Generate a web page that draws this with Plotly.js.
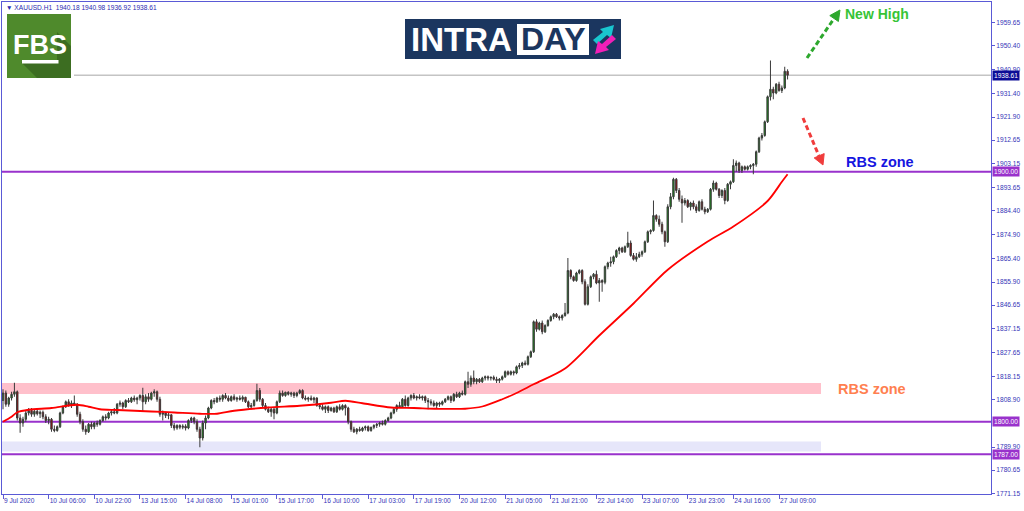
<!DOCTYPE html>
<html><head><meta charset="utf-8">
<script src="https://cdn.plot.ly/plotly-3.0.1.min.js"></script>
<style>html,body{margin:0;padding:0;background:#fff;}#chart{width:1024px;height:511px;}</style>
</head><body><div id="chart"></div>
<script>
// ---- data (XAUUSD H1) ----
const openP = [
1808.5,1811.5,1807.0,1809.5,1811.0,1812.0,1801.5,1799.5,1801.0,1803.5,
1804.5,1803.0,1804.2,1803.2,1803.8,1802.0,1800.5,1801.0,1797.0,1796.5,
1798.0,1803.5,1806.0,1808.0,1806.5,1807.5,1807.0,1803.0,1800.0,1797.0,
1796.0,1799.0,1798.0,1799.5,1799.0,1800.5,1802.0,1801.5,1803.5,1804.0,
1803.5,1807.0,1807.5,1806.0,1808.5,1808.0,1809.5,1808.8,1809.5,1810.5,
1808.0,1810.0,1809.0,1811.5,1812.0,1809.0,1803.0,1803.5,1802.5,1802.8,
1798.5,1797.5,1798.5,1797.8,1798.2,1797.5,1800.5,1801.5,1800.0,1797.0,
1793.5,1799.5,1801.5,1805.5,1808.5,1808.0,1809.5,1809.0,1810.5,1809.5,
1808.5,1810.0,1809.0,1809.5,1809.0,1809.8,1808.0,1806.0,1806.5,1808.5,
1812.5,1809.0,1806.5,1805.0,1804.0,1805.0,1803.5,1808.0,1811.5,1810.5,
1811.8,1811.0,1811.5,1810.5,1811.5,1812.5,1809.5,1809.0,1809.5,1808.8,
1809.5,1806.5,1806.0,1805.0,1806.0,1804.5,1805.5,1804.0,1806.0,1805.0,
1806.5,1805.5,1800.0,1797.0,1796.0,1797.0,1796.5,1797.5,1798.0,1796.5,
1797.8,1798.5,1799.0,1799.5,1799.0,1800.5,1801.5,1803.5,1805.0,1806.5,
1806.0,1809.0,1806.5,1809.5,1810.5,1809.5,1810.0,1809.5,1810.0,1808.5,
1808.0,1807.5,1806.5,1807.5,1807.0,1808.0,1809.0,1810.0,1808.5,1811.0,
1810.0,1811.5,1811.0,1816.0,1815.0,1817.5,1816.0,1817.0,1816.0,1817.5,
1818.0,1817.5,1817.8,1817.0,1816.5,1817.0,1818.0,1820.0,1819.0,1820.0,
1819.5,1822.0,1822.5,1823.5,1823.0,1826.0,1828.0,1840.0,1837.0,1839.5,
1836.0,1838.5,1840.5,1842.0,1843.0,1842.0,1841.5,1842.5,1843.5,1860.5,
1858.0,1856.5,1859.5,1860.5,1856.0,1847.0,1854.0,1858.0,1859.0,1855.5,
1856.5,1855.8,1862.0,1863.5,1864.0,1866.0,1868.5,1869.5,1868.0,1870.0,
1871.5,1866.5,1865.0,1866.0,1867.0,1868.0,1872.0,1876.0,1876.5,1882.5,
1881.0,1879.0,1876.0,1872.0,1886.0,1890.0,1897.0,1892.5,1889.0,1887.5,
1888.5,1886.0,1887.5,1886.0,1884.5,1888.0,1885.0,1884.0,1885.0,1893.0,
1895.5,1893.0,1890.5,1892.5,1888.5,1895.0,1896.0,1902.5,1903.5,1900.5,
1902.0,1901.0,1902.0,1902.5,1903.0,1908.0,1913.5,1914.5,1920.0,1930.0,
1933.0,1931.5,1935.0,1932.5,1933.5,1940.18];
const highP = [
1813.0,1812.5,1810.0,1812.0,1815.6,1812.5,1803.0,1802.0,1804.5,1805.5,
1805.5,1805.0,1805.0,1804.5,1804.5,1803.0,1802.0,1801.5,1798.5,1798.5,
1804.0,1806.5,1808.5,1809.0,1808.5,1810.5,1807.5,1804.0,1801.0,1798.5,
1799.5,1800.0,1800.0,1800.5,1801.0,1802.5,1803.0,1804.0,1805.0,1805.5,
1807.5,1808.5,1808.0,1809.0,1809.5,1810.0,1810.5,1810.0,1811.0,1813.6,
1811.0,1811.5,1812.0,1813.0,1812.5,1810.0,1804.5,1804.0,1803.5,1803.0,
1799.5,1799.0,1799.0,1799.0,1799.0,1801.0,1802.0,1802.0,1801.0,1798.0,
1800.5,1802.5,1806.0,1809.0,1809.5,1810.0,1810.5,1811.0,1811.5,1810.5,
1810.5,1811.0,1810.0,1810.5,1810.5,1810.0,1808.5,1807.5,1809.0,1815.2,
1813.5,1809.5,1807.5,1806.0,1805.5,1805.5,1808.5,1812.5,1812.5,1812.0,
1812.2,1812.0,1812.0,1812.0,1813.0,1813.0,1810.5,1810.0,1810.5,1810.0,
1809.8,1807.5,1807.0,1806.5,1806.5,1806.0,1806.0,1806.5,1807.0,1807.0,
1807.0,1806.0,1800.5,1798.0,1797.5,1798.0,1798.0,1798.5,1798.5,1798.0,
1799.0,1799.5,1800.0,1800.5,1801.0,1802.0,1804.0,1805.5,1807.0,1808.0,
1809.5,1810.5,1810.0,1811.0,1811.5,1810.5,1811.0,1810.5,1810.5,1809.5,
1809.0,1808.5,1808.0,1808.0,1808.5,1809.5,1810.5,1810.5,1811.5,1812.0,
1812.0,1812.5,1816.5,1820.0,1818.5,1820.5,1817.5,1817.5,1818.0,1818.5,
1818.5,1818.0,1818.5,1818.0,1817.5,1818.5,1820.5,1820.5,1820.5,1820.5,
1822.5,1823.5,1824.0,1824.5,1826.5,1828.5,1840.5,1841.0,1840.0,1840.5,
1839.0,1841.0,1842.5,1843.5,1843.5,1842.5,1843.0,1847.5,1865.5,1861.0,
1858.5,1860.0,1861.0,1861.0,1857.0,1855.0,1858.5,1859.5,1860.5,1857.5,
1857.0,1862.5,1864.0,1866.0,1866.5,1869.0,1870.0,1870.0,1870.5,1876.0,
1872.5,1867.5,1867.5,1868.0,1868.5,1872.5,1876.5,1877.0,1888.5,1883.0,
1882.5,1880.0,1876.5,1887.0,1891.5,1897.6,1897.5,1893.5,1890.5,1889.5,
1889.0,1888.0,1888.5,1887.0,1888.5,1889.0,1886.0,1885.5,1893.5,1896.5,
1896.0,1893.5,1893.0,1893.5,1895.5,1896.5,1905.0,1904.5,1904.0,1902.5,
1902.5,1902.5,1903.0,1903.5,1908.5,1914.0,1915.5,1920.5,1930.5,1944.5,
1934.0,1935.5,1936.0,1934.5,1942.0,1940.98];
const lowP = [
1805.0,1806.0,1806.0,1808.5,1810.0,1800.5,1795.6,1798.0,1800.0,1802.5,
1802.0,1802.0,1802.5,1801.5,1801.0,1799.5,1799.0,1796.0,1795.8,1796.0,
1797.5,1803.0,1805.5,1806.0,1805.5,1806.5,1802.0,1799.0,1796.0,1794.8,
1795.5,1797.0,1797.0,1798.0,1798.5,1800.0,1800.5,1801.0,1802.5,1803.0,
1803.0,1806.0,1805.0,1805.5,1807.5,1807.5,1808.0,1807.0,1808.5,1804.0,
1807.0,1808.0,1808.5,1810.0,1808.0,1802.0,1800.5,1801.5,1801.0,1797.5,
1796.5,1796.8,1797.0,1797.0,1796.5,1797.0,1799.5,1799.0,1796.0,1789.8,
1792.5,1797.0,1801.0,1805.0,1807.0,1807.5,1808.0,1808.0,1809.0,1808.0,
1808.0,1808.5,1808.0,1808.5,1808.0,1807.5,1805.5,1805.0,1806.0,1808.0,
1808.0,1805.5,1804.5,1803.5,1802.0,1801.0,1803.0,1807.5,1810.0,1810.0,
1810.5,1810.0,1809.5,1809.8,1811.0,1809.0,1808.5,1808.0,1808.5,1807.5,
1806.0,1805.0,1804.5,1803.5,1803.5,1804.0,1803.5,1803.5,1804.5,1804.5,
1802.5,1799.0,1796.0,1795.5,1795.0,1796.0,1796.0,1796.5,1796.0,1796.0,
1797.0,1797.5,1798.0,1798.5,1798.5,1800.0,1801.0,1803.0,1804.0,1805.5,
1805.5,1806.0,1806.0,1808.5,1809.0,1808.5,1809.0,1808.5,1807.5,1805.0,
1806.5,1806.0,1805.5,1806.0,1806.5,1807.5,1808.5,1807.5,1808.0,1809.5,
1809.5,1810.5,1810.5,1813.5,1814.0,1815.0,1815.0,1815.5,1815.5,1816.5,
1816.5,1816.5,1816.5,1815.5,1815.5,1816.5,1817.5,1818.5,1818.5,1818.5,
1819.0,1821.0,1821.5,1822.5,1822.5,1825.5,1827.5,1836.0,1836.5,1835.0,
1835.5,1838.0,1840.0,1841.0,1841.5,1840.5,1840.5,1842.0,1843.0,1857.0,
1856.0,1856.0,1859.0,1855.0,1846.5,1846.5,1853.5,1857.0,1855.0,1848.0,
1852.0,1855.0,1861.0,1862.0,1863.0,1865.5,1867.0,1867.5,1867.5,1869.5,
1866.0,1864.5,1864.0,1865.5,1866.0,1867.5,1871.5,1875.0,1876.0,1880.0,
1878.0,1875.0,1870.0,1871.5,1885.0,1889.0,1891.5,1888.0,1879.6,1886.5,
1885.5,1884.5,1885.0,1883.5,1884.0,1884.5,1883.0,1883.5,1884.5,1892.0,
1892.5,1889.5,1889.5,1887.0,1888.0,1893.0,1895.5,1900.0,1899.5,1899.5,
1900.5,1900.5,1901.0,1899.0,1902.0,1907.5,1912.5,1914.0,1919.5,1928.5,
1929.0,1931.0,1932.0,1931.5,1933.0,1936.92];
const closeP = [
1811.5,1807.0,1809.5,1811.0,1812.0,1801.5,1799.5,1801.0,1803.5,1804.5,
1803.0,1804.2,1803.2,1803.8,1802.0,1800.5,1801.0,1797.0,1796.5,1798.0,
1803.5,1806.0,1808.0,1806.5,1807.5,1807.0,1803.0,1800.0,1797.0,1796.0,
1799.0,1798.0,1799.5,1799.0,1800.5,1802.0,1801.5,1803.5,1804.0,1803.5,
1807.0,1807.5,1806.0,1808.5,1808.0,1809.5,1808.8,1809.5,1810.5,1808.0,
1810.0,1809.0,1811.5,1812.0,1809.0,1803.0,1803.5,1802.5,1802.8,1798.5,
1797.5,1798.5,1797.8,1798.2,1797.5,1800.5,1801.5,1800.0,1797.0,1793.5,
1799.5,1801.5,1805.5,1808.5,1808.0,1809.5,1809.0,1810.5,1809.5,1808.5,
1810.0,1809.0,1809.5,1809.0,1809.8,1808.0,1806.0,1806.5,1808.5,1812.5,
1809.0,1806.5,1805.0,1804.0,1805.0,1803.5,1808.0,1811.5,1810.5,1811.8,
1811.0,1811.5,1810.5,1811.5,1812.5,1809.5,1809.0,1809.5,1808.8,1809.5,
1806.5,1806.0,1805.0,1806.0,1804.5,1805.5,1804.0,1806.0,1805.0,1806.5,
1805.5,1800.0,1797.0,1796.0,1797.0,1796.5,1797.5,1798.0,1796.5,1797.8,
1798.5,1799.0,1799.5,1799.0,1800.5,1801.5,1803.5,1805.0,1806.5,1806.0,
1809.0,1806.5,1809.5,1810.5,1809.5,1810.0,1809.5,1810.0,1808.5,1808.0,
1807.5,1806.5,1807.5,1807.0,1808.0,1809.0,1810.0,1808.5,1811.0,1810.0,
1811.5,1811.0,1816.0,1815.0,1817.5,1816.0,1817.0,1816.0,1817.5,1818.0,
1817.5,1817.8,1817.0,1816.5,1817.0,1818.0,1820.0,1819.0,1820.0,1819.5,
1822.0,1822.5,1823.5,1823.0,1826.0,1828.0,1840.0,1837.0,1839.5,1836.0,
1838.5,1840.5,1842.0,1843.0,1842.0,1841.5,1842.5,1843.5,1860.5,1858.0,
1856.5,1859.5,1860.5,1856.0,1847.0,1854.0,1858.0,1859.0,1855.5,1856.5,
1855.8,1862.0,1863.5,1864.0,1866.0,1868.5,1869.5,1868.0,1870.0,1871.5,
1866.5,1865.0,1866.0,1867.0,1868.0,1872.0,1876.0,1876.5,1882.5,1881.0,
1879.0,1876.0,1872.0,1886.0,1890.0,1897.0,1892.5,1889.0,1887.5,1888.5,
1886.0,1887.5,1886.0,1884.5,1888.0,1885.0,1884.0,1885.0,1893.0,1895.5,
1893.0,1890.5,1892.5,1888.5,1895.0,1896.0,1902.5,1903.5,1900.5,1902.0,
1901.0,1902.0,1902.5,1903.0,1908.0,1913.5,1914.5,1920.0,1930.0,1933.0,
1931.5,1935.0,1932.5,1933.5,1940.2,1938.61];

// moving average (read at these bar positions)
const maIdx = [0,3,5,9,17,26,30,34,40,52,60,69,75,81,93,104,115,120,126,136,144,152,162,168,175,180,186,197,209,221,233,247,256,268,273,275];
const maVal = [1800.0,1802.0,1803.8,1804.8,1805.5,1806.8,1806.0,1805.0,1804.7,1804.1,1803.7,1803.2,1803.2,1804.4,1805.7,1806.4,1807.6,1808.4,1807.4,1805.7,1805.5,1805.2,1805.2,1806.1,1809.0,1811.5,1815.0,1821.3,1834.5,1847.3,1860.8,1872.1,1878.1,1888.3,1896.0,1899.0];

// axis ticks
const xTickPos = [0,16,32,48,64,80,96,112,128,144,160,176,192,208,224,240,256,272];
const xTickText = ['9 Jul 2020','10 Jul 06:00','10 Jul 22:00','13 Jul 15:00','14 Jul 08:00','15 Jul 01:00','15 Jul 17:00','16 Jul 10:00','17 Jul 03:00','17 Jul 19:00','20 Jul 12:00','21 Jul 05:00','21 Jul 21:00','22 Jul 14:00','23 Jul 07:00','23 Jul 23:00','24 Jul 16:00','27 Jul 09:00'];
const yTickVals = [1959.65,1950.40,1940.90,1931.40,1921.90,1912.65,1903.15,1893.65,1884.40,1874.90,1865.40,1855.90,1846.65,1837.15,1827.65,1818.15,1808.90,1789.90,1780.65,1771.15];

// levels
const levelLines = [1900.00, 1800.00, 1787.00];
const lastPrice = 1938.61;
const pinkZone = [1811.1, 1815.5];
const blueZone = [1788.1, 1792.1];
const header = {symbol:'XAUUSD.H1', o:1940.18, h:1940.98, l:1936.92, c:1938.61};

// ---- layout helpers (pixel -> paper) ----
const L=2, T=2, W=989, H=492;
const PX = x => (x - L) / W;
const PY = y => (T + H - y) / H;
const poly = pts => 'M ' + pts.map(p => PX(p[0]).toFixed(5)+' '+PY(p[1]).toFixed(5)).join(' L ') + ' Z';

const xIdx = openP.map((_, i) => i);
const axisBlue = '#5a5ad6';
const tickBlue = '#3535b8';

const traces = [
  {type:'candlestick', x:xIdx, open:openP, high:highP, low:lowP, close:closeP,
   increasing:{line:{color:'#3a3a3a', width:1}, fillcolor:'#189418'},
   decreasing:{line:{color:'#3a3a3a', width:1}, fillcolor:'#ad0000'},
   whiskerwidth:0, hoverinfo:'skip', showlegend:false},
  {type:'scatter', mode:'lines', x:maIdx, y:maVal, line:{color:'#ff0000', width:1.8, shape:'spline', smoothing:0.8},
   hoverinfo:'skip', showlegend:false}
];

const zoneRight = (820 - L) / 2.853; // index where zones end
const shapes = [
  {type:'rect', xref:'x', yref:'y', x0:-1, x1:zoneRight, y0:pinkZone[0], y1:pinkZone[1], fillcolor:'#ffc0cb', line:{width:0}, layer:'below'},
  {type:'rect', xref:'x', yref:'y', x0:-1, x1:zoneRight, y0:blueZone[0], y1:blueZone[1], fillcolor:'#e6e6fa', line:{width:0}, layer:'below'},
  {type:'line', xref:'paper', yref:'y', x0:PX(74), x1:1, y0:lastPrice, y1:lastPrice, line:{color:'#c4c4c4', width:1.5}, layer:'below'}
];
levelLines.forEach(v => shapes.push({type:'line', xref:'paper', yref:'y', x0:0, x1:1, y0:v, y1:v, line:{color:'#9932cc', width:2}, layer:'below'}));

// dashed arrows
shapes.push({type:'line', xref:'paper', yref:'paper', x0:PX(807), y0:PY(58), x1:PX(833), y1:PY(20), line:{color:'#2ea82e', width:3, dash:'5px,3px'}});
shapes.push({type:'path', xref:'paper', yref:'paper', path:poly([[840,10],[838.4,21.5],[829.8,15.6]]), fillcolor:'#2ea82e', line:{color:'#2ea82e', width:1}});
shapes.push({type:'line', xref:'paper', yref:'paper', x0:PX(803), y0:PY(118), x1:PX(819), y1:PY(156), line:{color:'#f03c3c', width:3, dash:'5px,3px'}});
shapes.push({type:'path', xref:'paper', yref:'paper', path:poly([[823,165],[824.2,153.6],[814.2,157.9]]), fillcolor:'#f03c3c', line:{color:'#f03c3c', width:1}});

// FBS logo
shapes.push({type:'rect', xref:'paper', yref:'paper', x0:PX(7), x1:PX(71), y0:PY(78), y1:PY(14), fillcolor:'#4f8a2c', line:{width:0}});
shapes.push({type:'path', xref:'paper', yref:'paper', path:poly([[57,32],[71,46],[71,78],[37,78],[21,62],[57,62]]), fillcolor:'#3c6d21', line:{width:0}});
shapes.push({type:'rect', xref:'paper', yref:'paper', x0:PX(22), x1:PX(58.5), y0:PY(63.5), y1:PY(60), fillcolor:'#ffffff', line:{width:0}});

// INTRADAY logo
shapes.push({type:'rect', xref:'paper', yref:'paper', x0:PX(405), x1:PX(621), y0:PY(59), y1:PY(19), fillcolor:'#1b365f', line:{width:0}});
shapes.push({type:'rect', xref:'paper', yref:'paper', x0:PX(517), x1:PX(589), y0:PY(55), y1:PY(24), fillcolor:'#ffffff', line:{width:0}});
shapes.push({type:'path', xref:'paper', yref:'paper', path:poly([[593,40],[603,32],[600,29],[614,25],[611,38],[607,35],[597,44]]), fillcolor:'#19c6cf', line:{width:0}});
shapes.push({type:'path', xref:'paper', yref:'paper', path:poly([[616,39],[606,47],[609,50],[595,54],[598,41],[602,44],[612,35]]), fillcolor:'#f01fb8', line:{width:0}});

const nb = '\u00a0';
const annotations = [
  {xref:'paper', yref:'paper', x:PX(4), y:PY(7.5), xanchor:'left', yanchor:'middle', showarrow:false,
   text:'\u25BC' + nb + header.symbol + nb + nb + header.o.toFixed(2) + nb + header.h.toFixed(2) + nb + header.l.toFixed(2) + nb + header.c.toFixed(2),
   font:{family:'Liberation Sans, Arial, sans-serif', size:6.6, color:'#2b2bb0'}},
  {xref:'paper', yref:'paper', x:PX(40), y:PY(45), xanchor:'center', yanchor:'middle', showarrow:false,
   text:'<b>FBS</b>', font:{family:'Liberation Sans Narrow, Liberation Sans, Arial Narrow, sans-serif', size:27, color:'#ffffff'}},
  {xref:'paper', yref:'paper', x:PX(409), y:PY(39.5), xanchor:'left', yanchor:'middle', showarrow:false,
   text:'<b>INTRA</b>', font:{family:'Liberation Sans, Arial, sans-serif', size:33, color:'#ffffff'}},
  {xref:'paper', yref:'paper', x:PX(553), y:PY(39.5), xanchor:'center', yanchor:'middle', showarrow:false,
   text:'<b>DAY</b>', font:{family:'Liberation Sans, Arial, sans-serif', size:32, color:'#1b365f'}},
  {xref:'paper', yref:'paper', x:PX(877), y:PY(14), xanchor:'center', yanchor:'middle', showarrow:false,
   text:'<b>New High</b>', font:{family:'Liberation Sans, Arial, sans-serif', size:14, color:'#36c436'}},
  {xref:'paper', yref:'paper', x:PX(880), y:PY(162), xanchor:'center', yanchor:'middle', showarrow:false,
   text:'<b>RBS zone</b>', font:{family:'Liberation Sans, Arial, sans-serif', size:14.5, color:'#1515e0'}},
  {xref:'paper', yref:'paper', x:PX(872), y:PY(389), xanchor:'center', yanchor:'middle', showarrow:false,
   text:'<b>RBS zone</b>', font:{family:'Liberation Sans, Arial, sans-serif', size:14.5, color:'#ff7f50'}}
];
// right axis price boxes
const boxes = [[lastPrice,'#0c0c96'],[levelLines[0],'#9932cc'],[levelLines[1],'#9932cc'],[levelLines[2],'#9932cc']];
boxes.forEach(b => annotations.push({xref:'paper', yref:'y', x:1, y:b[0], xanchor:'left', yanchor:'middle', xshift:1,
  showarrow:false, text:b[0].toFixed(2), bgcolor:b[1], borderpad:1,
  font:{family:'Liberation Sans, Arial, sans-serif', size:6.6, color:'#ffffff'}}));

const layout = {
  width:1024, height:511, paper_bgcolor:'#ffffff', plot_bgcolor:'#ffffff',
  margin:{l:L, r:1024 - L - W, t:T, b:511 - T - H},
  showlegend:false, dragmode:false,
  xaxis:{type:'linear', range:[-0.35, (W) / 2.853 - 0.35], rangeslider:{visible:false}, showgrid:false, zeroline:false,
    showline:true, mirror:true, linecolor:axisBlue, linewidth:1,
    ticks:'outside', ticklen:4, tickcolor:axisBlue, tickwidth:1,
    tickmode:'array', tickvals:xTickPos, ticktext:xTickText, ticklabelposition:'outside right',
    tickfont:{family:'Liberation Sans, Arial, sans-serif', size:6.6, color:tickBlue}, fixedrange:true},
  yaxis:{side:'right', range:[1771.1, 1967.9], showgrid:false, zeroline:false,
    showline:true, mirror:true, linecolor:axisBlue, linewidth:1,
    ticks:'outside', ticklen:3, tickcolor:axisBlue, tickwidth:1,
    tickmode:'array', tickvals:yTickVals, ticktext:yTickVals.map(v => v.toFixed(2)),
    tickfont:{family:'Liberation Sans, Arial, sans-serif', size:6.6, color:tickBlue}, fixedrange:true},
  shapes:shapes, annotations:annotations
};

Plotly.newPlot('chart', traces, layout, {displayModeBar:false, staticPlot:true});
</script></body></html>
